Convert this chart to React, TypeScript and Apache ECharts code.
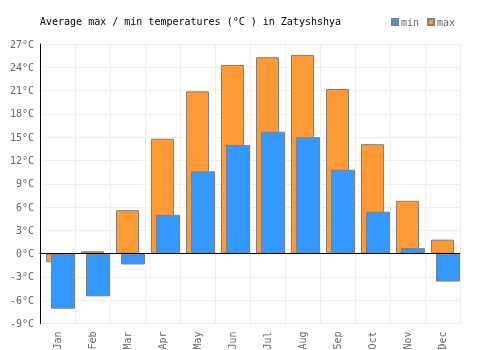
import React, { useEffect, useRef } from "react";
import * as echarts from "echarts";

const months = ["Jan", "Feb", "Mar", "Apr", "May", "Jun", "Jul", "Aug", "Sep", "Oct", "Nov", "Dec"];
const maxTemps = [-1.1, 0.3, 5.6, 14.8, 20.9, 24.3, 25.3, 25.6, 21.2, 14.1, 6.8, 1.8];
const minTemps = [-7.1, -5.5, -1.4, 5.0, 10.6, 14.0, 15.7, 15.0, 10.8, 5.4, 0.7, -3.6];
const titleText = "Average max / min temperatures (°C ) in Zatyshshya";

const FONT = "DejaVu Sans Mono";

export default function App() {
  const ref = useRef<HTMLDivElement>(null);
  useEffect(() => {
    if (!ref.current) return;
    const chart = echarts.init(ref.current, undefined, { renderer: "svg" });
    const yBase = {
      type: "value" as const,
      min: -9,
      max: 27,
      interval: 3,
    };
    chart.setOption({
      animation: false,
      title: {
        text: titleText,
        left: 40,
        top: 16,
        padding: 0,
        textStyle: { fontFamily: FONT, fontSize: 10, fontWeight: "normal", color: "#000" },
      },
      legend: {
        data: ["min", "max"],
        left: 391,
        top: 17,
        padding: 0,
        itemWidth: 6,
        itemHeight: 6,
        itemGap: 8,
        icon: "rect",
        textStyle: { fontFamily: FONT, fontSize: 10, color: "#666", padding: [0, 0, 0, -2] },
      },
      grid: [
        { left: 40, width: 420, top: 44, height: 279.5, containLabel: false, outerBoundsMode: "none" },
        { left: 45.5, width: 420, top: 44, height: 279.5, containLabel: false, outerBoundsMode: "none" },
      ],
      xAxis: [
        {
          type: "category",
          gridIndex: 0,
          data: months,
          position: "bottom",
          axisLine: { show: false, onZero: false },
          axisTick: { show: false },
          splitLine: { show: true, lineStyle: { color: "#eeeeee", width: 1 } },
          axisLabel: { rotate: 90, margin: 8, color: "#666", fontFamily: FONT, fontSize: 10 },
        },
        {
          type: "category",
          gridIndex: 0,
          data: months,
          position: "top",
          z: 10,
          axisLine: { show: true, onZero: true, lineStyle: { color: "#000", width: 1 } },
          axisTick: { show: false },
          axisLabel: { show: false },
          splitLine: { show: false },
        },
        {
          type: "category",
          gridIndex: 1,
          data: months,
          show: false,
        },
      ],
      yAxis: [
        {
          ...yBase,
          gridIndex: 0,
          axisLine: { show: true, lineStyle: { color: "#000", width: 1 } },
          axisTick: { show: false },
          splitLine: { show: true, lineStyle: { color: "#eeeeee", width: 1 } },
          axisLabel: { formatter: "{value}°C", margin: 6, color: "#666", fontFamily: FONT, fontSize: 10 },
        },
        { ...yBase, gridIndex: 1, show: false, splitLine: { show: false } },
      ],
      series: [
        {
          name: "max",
          type: "bar",
          xAxisIndex: 0,
          yAxisIndex: 0,
          data: maxTemps,
          barWidth: 23,
          itemStyle: { color: "#ff9933", borderColor: "#808080", borderWidth: 1 },
        },
        {
          name: "min",
          type: "bar",
          xAxisIndex: 2,
          yAxisIndex: 1,
          data: minTemps,
          barWidth: 24,
          itemStyle: { color: "#3399ff", borderColor: "#808080", borderWidth: 1 },
        },
      ],
    });
    return () => chart.dispose();
  }, []);
  return <div ref={ref} style={{ position: "fixed", left: 0, top: 0, width: 500, height: 350 }} />;
}
